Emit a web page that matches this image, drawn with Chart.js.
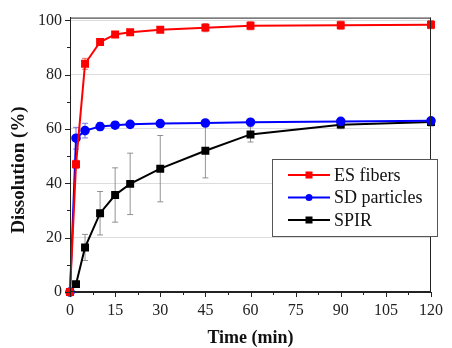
<!DOCTYPE html>
<html><head><meta charset="utf-8">
<script src="https://cdn.jsdelivr.net/npm/chart.js@4.4.0/dist/chart.umd.min.js"></script>
<style>html,body{margin:0;padding:0;background:#fff}canvas{display:block}</style>
</head><body>
<canvas id="c" width="452" height="348"></canvas>
<script>
const timePoints = [0, 2, 5, 10, 15, 20, 30, 45, 60, 90, 120];
const esFibers = [0, 47, 84, 92, 94.8, 95.6, 96.5, 97.3, 98, 98.2, 98.4];
const esErr = [0, 1.5, 2, 1, 0.8, 0.8, 0.8, 1.5, 1.5, 1.5, 1.5];
const sdParticles = [0, 56.6, 59.4, 60.9, 61.4, 61.7, 62, 62.2, 62.5, 62.8, 63];
const sdErr = [0, 4, 2.7, 1.5, 1.2, 1, 0.8, 0.8, 0.8, 0.8, 0.8];
const spir = [0, 2.9, 16.4, 29, 35.7, 39.8, 45.4, 52, 58, 61.6, 62.6];
const spirErr = [0, 1, 4.8, 8, 10, 11.3, 12.2, 10, 2.8, 1.5, 1.5];
const xTicks = [0, 15, 30, 45, 60, 75, 90, 105, 120];
const yTicks = [0, 20, 40, 60, 80, 100];
const xMinor = [7.5, 22.5, 37.5, 52.5, 67.5, 82.5, 97.5, 112.5];
const yMinor = [10, 30, 50, 70, 90];
const seriesLabels = ['ES fibers', 'SD particles', 'SPIR'];
const xTitle = 'Time (min)';
const yTitle = 'Dissolution (%)';

const FONT = "'Liberation Serif', 'Times New Roman', serif";
const pts = arr => timePoints.map((t, i) => ({x: t, y: arr[i]}));

const errorBars = {
  id: 'errorBars',
  beforeDatasetsDraw(chart) {
    const {ctx, scales: {x, y}} = chart;
    chart.data.datasets.forEach(ds => {
      const errs = ds.errors; if (!errs) return;
      ctx.save();
      ctx.strokeStyle = ds.errorColor; ctx.lineWidth = 1;
      ds.data.forEach((p, j) => {
        const e = errs[j]; if (!e) return;
        const px = x.getPixelForValue(p.x);
        const yt = y.getPixelForValue(p.y + e), yb = y.getPixelForValue(p.y - e);
        ctx.beginPath();
        ctx.moveTo(px, yt); ctx.lineTo(px, yb);
        ctx.moveTo(px - 3, yt); ctx.lineTo(px + 3, yt);
        ctx.moveTo(px - 3, yb); ctx.lineTo(px + 3, yb);
        ctx.stroke();
      });
      ctx.restore();
    });
  }
};

const frame = {
  id: 'frame',
  afterDraw(chart) {
    const {ctx, chartArea: a, scales: {x, y}} = chart;
    ctx.save();
    ctx.strokeStyle = '#222'; ctx.lineWidth = 1;
    ctx.beginPath();
    ctx.moveTo(a.left, a.top + 0.5); ctx.lineTo(a.right, a.top + 0.5);
    ctx.moveTo(a.right - 0.5, a.top); ctx.lineTo(a.right - 0.5, a.bottom);
    ctx.moveTo(a.left + 0.5, a.top); ctx.lineTo(a.left + 0.5, a.bottom);
    ctx.moveTo(a.left, a.bottom - 0.5); ctx.lineTo(a.right, a.bottom - 0.5);
    xTicks.forEach(v => { const p = Math.round(x.getPixelForValue(v)) + 0.5; ctx.moveTo(p, a.bottom); ctx.lineTo(p, a.bottom + 5); });
    xMinor.forEach(v => { const p = Math.round(x.getPixelForValue(v)) + 0.5; ctx.moveTo(p, a.bottom); ctx.lineTo(p, a.bottom + 3); });
    yTicks.forEach(v => { const p = Math.round(y.getPixelForValue(v)) + 0.5; ctx.moveTo(a.left, p); ctx.lineTo(a.left - 5, p); });
    yMinor.forEach(v => { const p = Math.round(y.getPixelForValue(v)) + 0.5; ctx.moveTo(a.left, p); ctx.lineTo(a.left - 3, p); });
    ctx.stroke();
    // axis titles
    ctx.fillStyle = '#111';
    ctx.textAlign = 'center'; ctx.textBaseline = 'middle';
    ctx.font = 'bold 18px ' + FONT;
    ctx.fillText(xTitle, (a.left + a.right) / 2, 338);
    ctx.translate(19, 170); ctx.rotate(-Math.PI / 2);
    ctx.font = 'bold 19px ' + FONT;
    ctx.fillText(yTitle, 0, 0);
    ctx.restore();
  }
};

const legendBox = {
  id: 'legendBox',
  afterDraw(chart) {
    const {ctx} = chart;
    const bx = 272.5, by = 159.5, bw = 165, bh = 77;
    ctx.save();
    ctx.fillStyle = '#fff'; ctx.fillRect(bx, by, bw, bh);
    ctx.strokeStyle = '#555'; ctx.lineWidth = 1; ctx.strokeRect(bx, by, bw, bh);
    ctx.font = '18px ' + FONT; ctx.textBaseline = 'middle'; ctx.fillStyle = '#111';
    chart.data.datasets.forEach((ds, i) => {
      const cy = 175 + i * 22.5;
      ctx.strokeStyle = ds.borderColor; ctx.lineWidth = 2;
      ctx.beginPath(); ctx.moveTo(288, cy); ctx.lineTo(330, cy); ctx.stroke();
      ctx.fillStyle = ds.borderColor;
      if (ds.pointStyle === 'circle') { ctx.beginPath(); ctx.arc(309, cy, 3.5, 0, Math.PI * 2); ctx.fill(); }
      else ctx.fillRect(305.5, cy - 3.5, 7, 7);
      ctx.fillStyle = '#111';
      ctx.fillText(ds.label, 334, cy + 1);
    });
    ctx.restore();
  }
};

new Chart(document.getElementById('c'), {
  type: 'line',
  data: {
    datasets: [
      {label: seriesLabels[0], data: pts(esFibers), errors: esErr, errorColor: 'rgba(220,60,60,0.75)',
       borderColor: '#ff0000', backgroundColor: '#ff0000', pointStyle: 'rect', pointRadius: 4.2, borderWidth: 2, tension: 0},
      {label: seriesLabels[1], data: pts(sdParticles), errors: sdErr, errorColor: 'rgba(80,80,230,0.75)',
       borderColor: '#0000ff', backgroundColor: '#0000ff', pointStyle: 'circle', pointRadius: 3.8, borderWidth: 2, tension: 0},
      {label: seriesLabels[2], data: pts(spir), errors: spirErr, errorColor: 'rgba(120,120,120,0.8)',
       borderColor: '#000000', backgroundColor: '#000000', pointStyle: 'rect', pointRadius: 4.2, borderWidth: 2, tension: 0}
    ]
  },
  options: {
    responsive: false, animation: false, devicePixelRatio: 1,
    layout: {padding: {left: 0, right: 14, top: 17, bottom: 0}},
    datasets: {line: {clip: false}},
    plugins: {legend: {display: false}, tooltip: {enabled: false}},
    scales: {
      x: {
        type: 'linear', min: 0, max: 120,
        afterBuildTicks: s => { s.ticks = xTicks.map(v => ({value: v})); },
        afterFit: s => { s.height = 56; },
        grid: {display: false, drawTicks: false},
        border: {display: true, color: '#222'},
        ticks: {padding: 9, color: '#222', font: {family: FONT, size: 16}, maxRotation: 0},
        title: {display: false}
      },
      y: {
        type: 'linear', min: 0, max: 101,
        afterBuildTicks: s => { s.ticks = yTicks.map(v => ({value: v})); },
        afterFit: s => { s.width = 70; },
        grid: {drawTicks: false, color: c => c.tick && c.tick.value === 0 ? 'rgba(0,0,0,0)' : '#dcdcdc', lineWidth: 1},
        border: {display: true, color: '#222'},
        ticks: {padding: 8, color: '#222', font: {family: FONT, size: 16}},
        title: {display: false}
      }
    }
  },
  plugins: [errorBars, frame, legendBox]
});
</script>
</body></html>
